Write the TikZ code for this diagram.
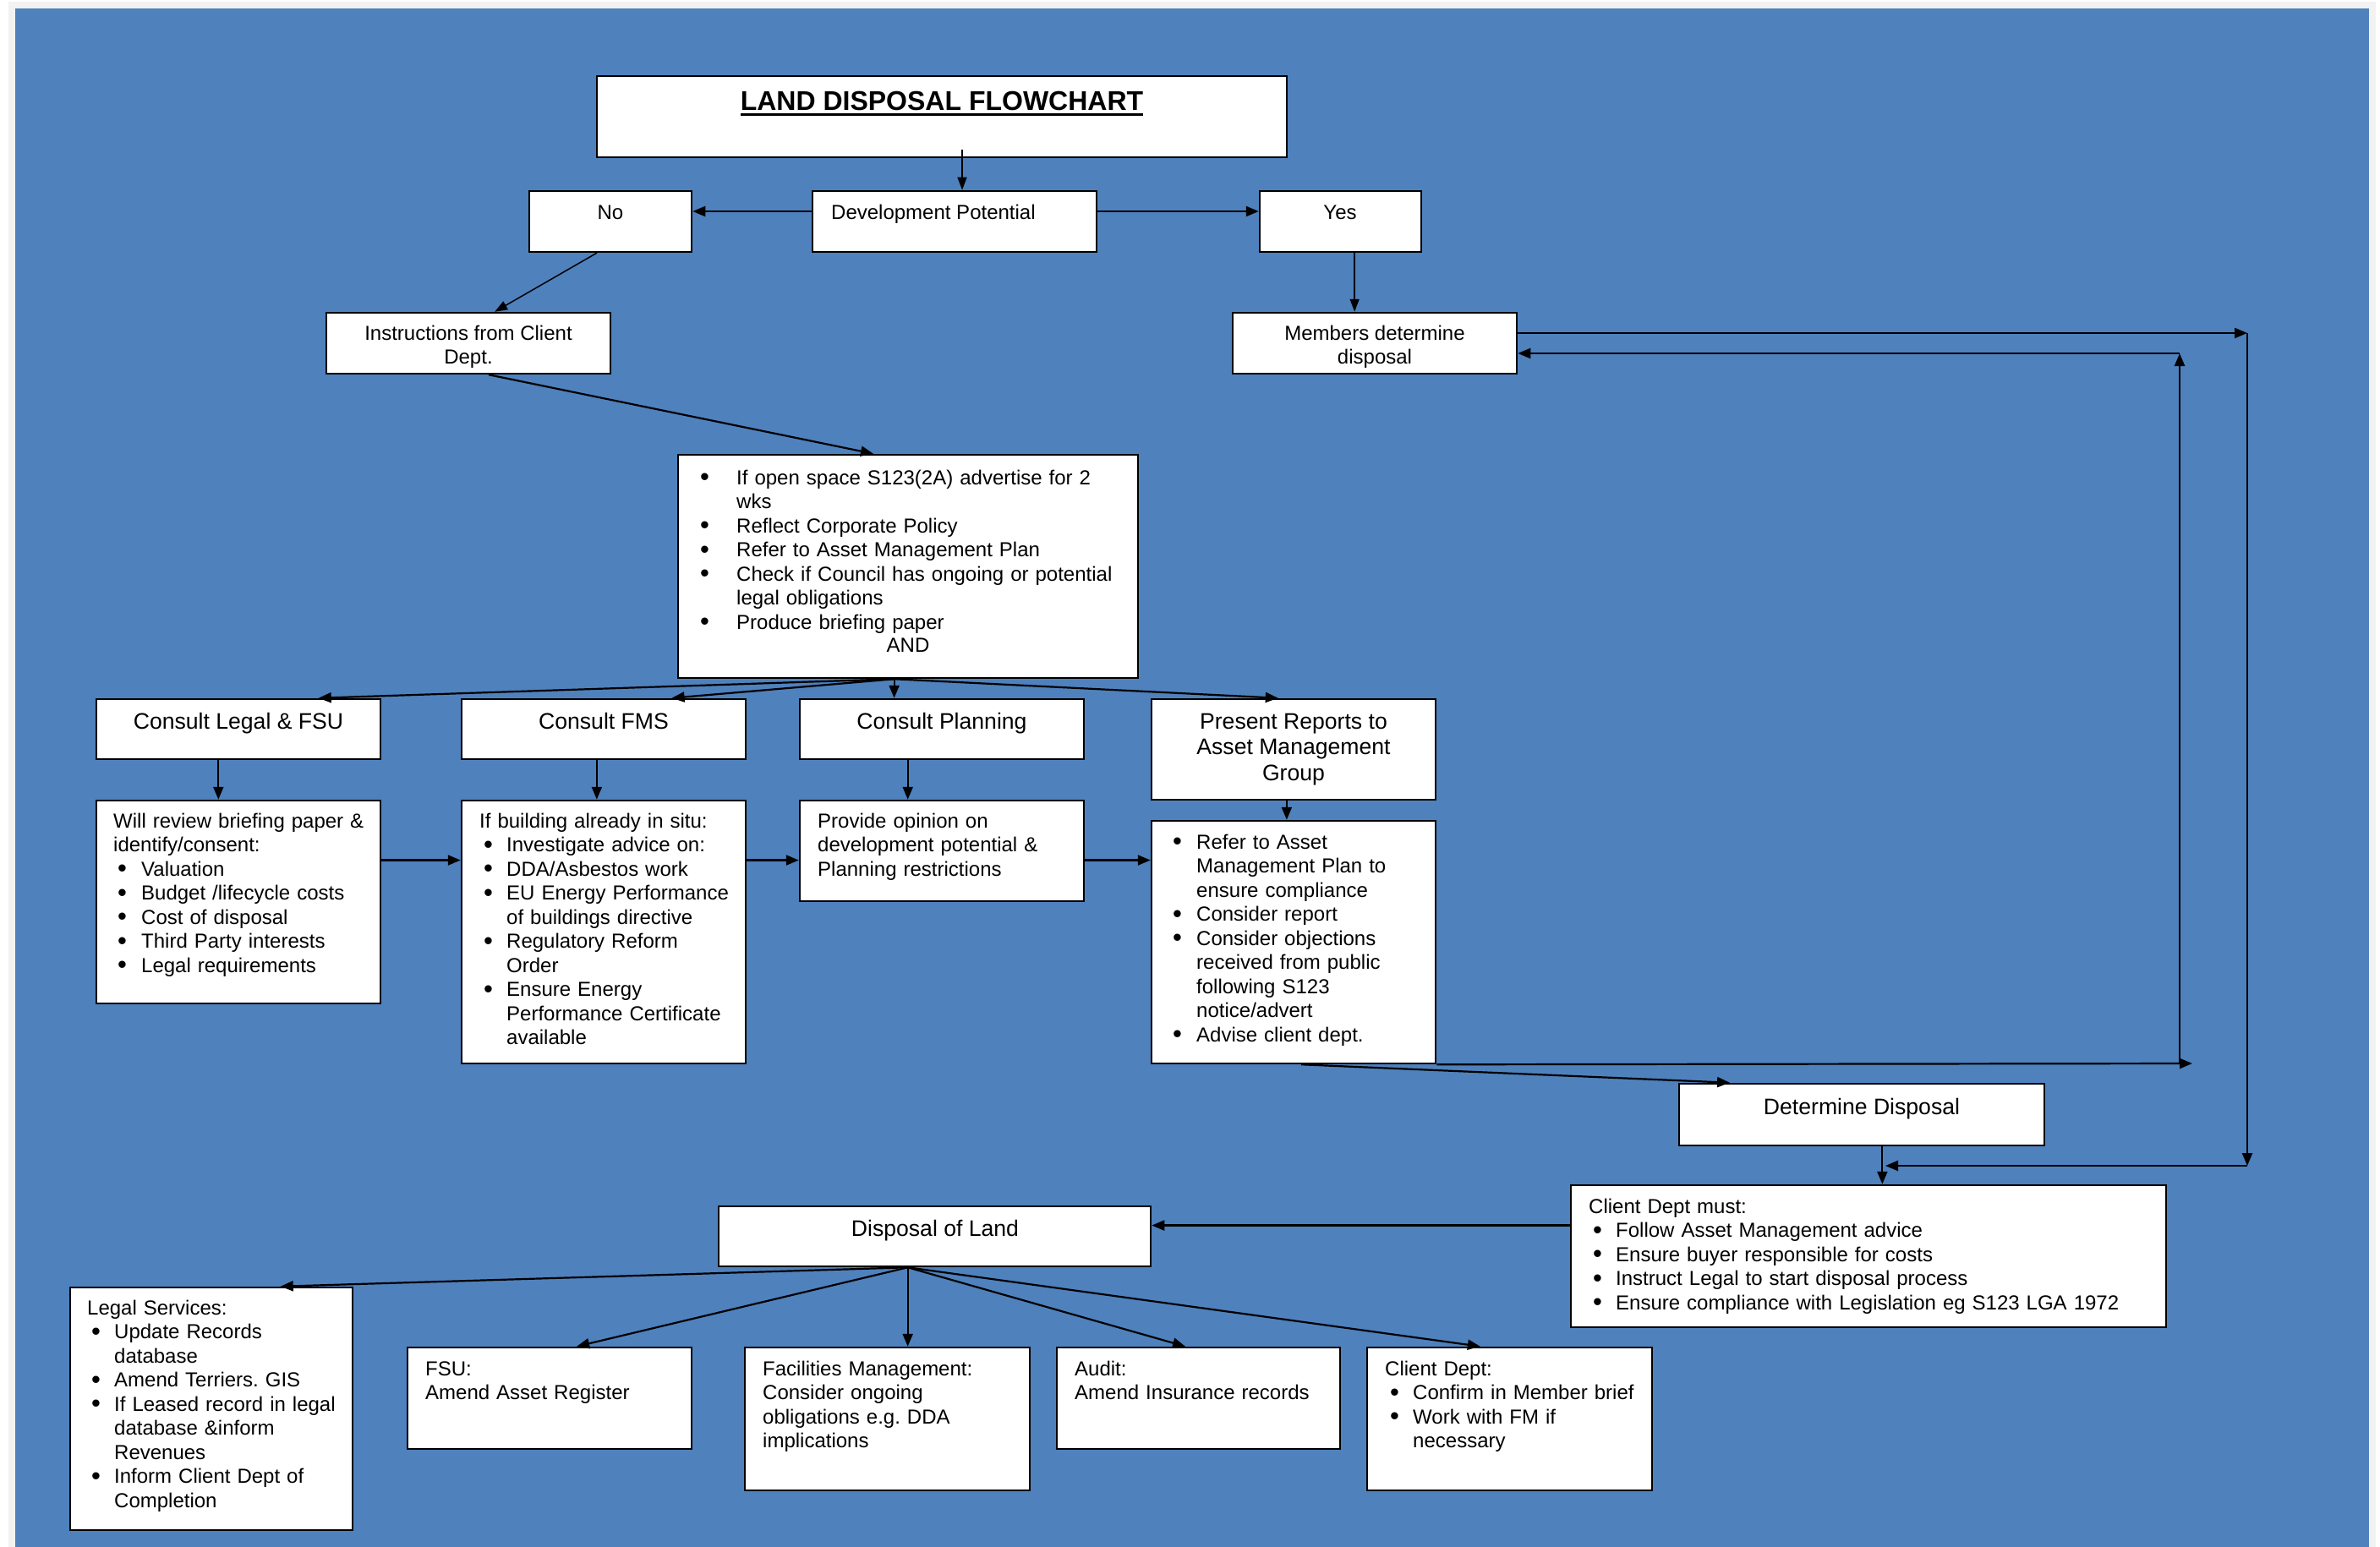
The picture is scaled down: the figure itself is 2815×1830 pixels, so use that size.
\documentclass[tikz,border=0pt]{standalone}
\usepackage{fontspec}
\setmainfont{Liberation Sans}
\usetikzlibrary{arrows.meta,calc,fit}
\definecolor{bgblue}{RGB}{79,129,189}
\definecolor{strip}{RGB}{242,242,242}
\newlength\bulo \newlength\buli
\newcommand\bigbul{\raisebox{-1.5pt}{\fontsize{31}{31}\selectfont\textbullet}}
\newcommand\lbulF[1]{\noindent\hangindent=\buli\hangafter=1\makebox[\buli][l]{\hspace{\bulo}\bigbul}\strut#1}
\newcommand\lbul[1]{\par\lbulF{#1}}
\newcommand\bodyf{\frenchspacing\fontsize{24}{28.5}\selectfont}
\newcommand\smallf{\frenchspacing\fontsize{24}{28}\selectfont}
\newcommand\headf{\frenchspacing\fontsize{26.6}{30.5}\selectfont}
\tikzset{
  box/.style={draw=black, fill=white, line width=2.5pt, inner sep=0pt},
  arr/.style={line width=2.2pt, -{Triangle[length=15pt,width=12pt]}},
  arrT/.style={line width=1.5pt, -{Triangle[length=15pt,width=11pt]}},
  tx/.style={inner sep=0pt, anchor=north west, align=left, text width=#1, font=\bodyf},
  hd/.style={inner sep=0pt, anchor=base, font=\headf},
  sm/.style={inner sep=0pt, anchor=base, font=\smallf},
}
\begin{document}
\begin{tikzpicture}[x=1pt,y=-1pt]
\useasboundingbox (0,0) rectangle (2815,1830);
\fill[white] (0,0) rectangle (2815,1830);
\fill[strip] (10,2) rectangle (2810,1830);
\fill[bgblue] (18,10) rectangle (2802,1830);

% ---------- boxes ----------
\node[box, fit={(706,90)(1522,186)}] (title) {};
\node[box, fit={(626,226)(818,298)}] (no) {};
\node[box, fit={(961,226)(1297,298)}] (dev) {};
\node[box, fit={(1490,226)(1681,298)}] (yes) {};
\node[box, fit={(386,370)(722,442)}] (instr) {};
\node[box, fit={(1458,370)(1794,442)}] (members) {};
\node[box, fit={(802,538)(1346,802)}] (main) {};
\node[box, fit={(114,827)(450,898)}] (legal) {};
\node[box, fit={(546,827)(882,898)}] (fms) {};
\node[box, fit={(946,827)(1282,898)}] (plan) {};
\node[box, fit={(1362,827)(1698,946)}] (present) {};
\node[box, fit={(114,947)(450,1187)}] (review) {};
\node[box, fit={(546,947)(882,1258)}] (building) {};
\node[box, fit={(946,947)(1282,1066)}] (opinion) {};
\node[box, fit={(1362,971)(1698,1258)}] (refer) {};
\node[box, fit={(1986,1282)(2418,1355)}] (determine) {};
\node[box, fit={(1858,1402)(2562,1570)}] (must) {};
\node[box, fit={(850,1427)(1361,1498)}] (disposal) {};
\node[box, fit={(83,1523)(417,1810)}] (legalsvc) {};
\node[box, fit={(482,1594)(818,1714)}] (fsu) {};
\node[box, fit={(881,1594)(1218,1763)}] (fm) {};
\node[box, fit={(1250,1594)(1585,1714)}] (audit) {};
\node[box, fit={(1617,1594)(1954,1763)}] (client) {};

% ---------- connectors ----------
\coordinate (c1) at (1138,177);
\draw[arrT] (c1) -- (c1 |- dev.north);
\draw[arr] ([yshift=12pt]dev.west) -- ([yshift=12pt]no.east);
\draw[arr] ([yshift=12pt]dev.east) -- ([yshift=12pt]yes.west);
\draw[arrT] ($(no.south west)!0.417!(no.south east)$) -- ($(instr.north west)!0.592!(instr.north east)$);
\coordinate (c5) at ($(yes.south west)!0.586!(yes.south east)$);
\draw[arrT] (c5) -- (c5 |- members.north);
\draw[arr] ($(instr.south west)!0.571!(instr.south east)$) -- ($(main.north west)!0.425!(main.north east)$);

\coordinate (F) at ($(main.south west)!0.47!(main.south east)$);
\draw[arr] (F) -- ($(legal.north west)!0.78!(legal.north east)$);
\draw[arr] (F) -- ($(fms.north west)!0.738!(fms.north east)$);
\draw[arr] (F) -- (F |- plan.north);
\draw[arr] (F) -- ($(present.north west)!0.446!(present.north east)$);

\coordinate (c8) at ($(legal.south west)!0.43!(legal.south east)$);
\draw[arr] (c8) -- (c8 |- review.north);
\coordinate (c9) at ($(fms.south west)!0.476!(fms.south east)$);
\draw[arr] (c9) -- (c9 |- building.north);
\coordinate (c10) at ($(plan.south west)!0.381!(plan.south east)$);
\draw[arr] (c10) -- (c10 |- opinion.north);
\coordinate (c11) at ($(present.south west)!0.476!(present.south east)$);
\draw[arr] (c11) -- (c11 |- refer.north);

\coordinate (c12) at ($(review.north east)!0.296!(review.south east)$);
\draw[arr] (c12) -- (c12 -| building.west);
\draw[arr] (c12 -| building.east) -- (c12 -| opinion.west);
\draw[arr] (c12 -| opinion.east) -- (c12 -| refer.west);

\draw[arr] ($(refer.south west)!0.527!(refer.south east)$) -- ($(determine.north west)!0.141!(determine.north east)$);

\coordinate (kA) at (2593,1258);
\coordinate (kB) at (2578,1258);
\coordinate (kC) at (2578,418);
\draw[arr] (refer.south east) -- (kA);
\draw[arr] (kB) -- (kC);
\draw[arr] (kC) -- (kC -| members.east);

\coordinate (kD) at (2658,394);
\coordinate (kE) at (2658,1379);
\coordinate (kF) at (2230,1379);
\draw[arr] (members.east |- kD) -- (kD);
\draw[arr] (kD) -- (kE);
\draw[arr] (kE) -- (kF);

\coordinate (c19) at ($(determine.south west)!0.556!(determine.south east)$);
\draw[arr] (c19) -- (c19 |- must.north);

\coordinate (c20) at ($(disposal.north east)!0.324!(disposal.south east)$);
\draw[arr] (c20 -| must.west) -- (c20);

\coordinate (G) at ($(disposal.south west)!0.438!(disposal.south east)$);
\draw[arr] (G) -- ($(legalsvc.north west)!0.743!(legalsvc.north east)$);
\draw[arr] (G) -- ($(fsu.north west)!0.595!(fsu.north east)$);
\draw[arr] (G) -- (G |- fm.north);
\draw[arr] (G) -- ($(audit.north west)!0.454!(audit.north east)$);
\draw[arr] (G) -- ($(client.north west)!0.398!(client.north east)$);

% ---------- texts ----------
\node[inner sep=0pt, anchor=base, font=\bfseries\fontsize{32}{38}\selectfont] (ttl) at (1114,131) {LAND DISPOSAL FLOWCHART};
\draw[line width=3pt] ($(ttl.base west)+(0,5)$) -- ($(ttl.base east)+(0,5)$);

\node[sm] (noT) at (722,259) {No};
\node[sm] (yesT) at (1585,259) {Yes};
\node[sm, anchor=base west] (devT) at (983,259) {Development Potential};
\node[sm, anchor=north, align=center] (instrT) at (554,382.4) {\strut Instructions from Client\\Dept.};
\node[sm, anchor=north, align=center] (membersT) at (1626,382.4) {\strut Members determine\\disposal};

\node[tx=520pt] (mainT) at (828,553) {\setlength\bulo{0pt}\setlength\buli{43pt}%
\lbulF{If open space S123(2A) advertise for 2\newline wks}%
\lbul{Reflect Corporate Policy}%
\lbul{Refer to Asset Management Plan}%
\lbul{Check if Council has ongoing or potential\newline legal obligations}%
\lbul{Produce briefing paper}\par};
\node[sm] (andT) at (1074,771) {AND};

\node[hd] (legalH) at (282,862) {Consult Legal \& FSU};
\node[hd] (fmsH) at (714,862) {Consult FMS};
\node[hd] (planH) at (1114,862) {Consult Planning};
\node[hd, anchor=north, align=center] (presentH) at (1530,840.6) {\strut Present Reports to\\Asset Management\\Group};

\node[tx=320pt] (reviewT) at (134,959) {\setlength\bulo{5pt}\setlength\buli{33pt}%
\strut Will review briefing paper \&\\identify/consent:%
\lbul{Valuation}%
\lbul{Budget /lifecycle costs}%
\lbul{Cost of disposal}%
\lbul{Third Party interests}%
\lbul{Legal requirements}\par};

\node[tx=320pt] (buildingT) at (567,959) {\setlength\bulo{5pt}\setlength\buli{32pt}%
\strut If building already in situ:%
\lbul{Investigate advice on:}%
\lbul{DDA/Asbestos work}%
\lbul{EU Energy Performance\newline of buildings directive}%
\lbul{Regulatory Reform\newline Order}%
\lbul{Ensure Energy\newline Performance Certificate\newline available}\par};

\node[tx=320pt] (opinionT) at (967,959) {\strut Provide opinion on\\development potential \&\\Planning restrictions};

\node[tx=320pt] (referT) at (1387,984) {\setlength\bulo{0pt}\setlength\buli{28pt}%
\lbulF{Refer to Asset\newline Management Plan to\newline ensure compliance}%
\lbul{Consider report}%
\lbul{Consider objections\newline received from public\newline following S123\newline notice/advert}%
\lbul{Advise client dept.}\par};

\node[hd] (detT) at (2202,1318) {Determine Disposal};

\node[tx=680pt] (mustT) at (1879,1415) {\setlength\bulo{5pt}\setlength\buli{32pt}%
\strut Client Dept must:%
\lbul{Follow Asset Management advice}%
\lbul{Ensure buyer responsible for costs}%
\lbul{Instruct Legal to start disposal process}%
\lbul{Ensure compliance with Legislation eg S123 LGA 1972}\par};

\node[hd] (dispT) at (1106,1462) {Disposal of Land};

\node[tx=320pt] (legalsvcT) at (103,1535) {\setlength\bulo{5pt}\setlength\buli{32pt}%
\strut Legal Services:%
\lbul{Update Records\newline database}%
\lbul{Amend Terriers. GIS}%
\lbul{If Leased record in legal\newline database \&inform\newline Revenues}%
\lbul{Inform Client Dept of\newline Completion}\par};

\node[tx=320pt] (fsuT) at (503,1607) {\strut FSU:\\Amend Asset Register};
\node[tx=320pt] (fmT) at (902,1607) {\strut Facilities Management:\\Consider ongoing\\obligations e.g. DDA\\implications};
\node[tx=320pt] (auditT) at (1271,1607) {\strut Audit:\\Amend Insurance records};
\node[tx=320pt] (clientT) at (1638,1607) {\setlength\bulo{6pt}\setlength\buli{33pt}%
\strut Client Dept:%
\lbul{Confirm in Member brief}%
\lbul{Work with FM if\newline necessary}\par};
\end{tikzpicture}
\end{document}
